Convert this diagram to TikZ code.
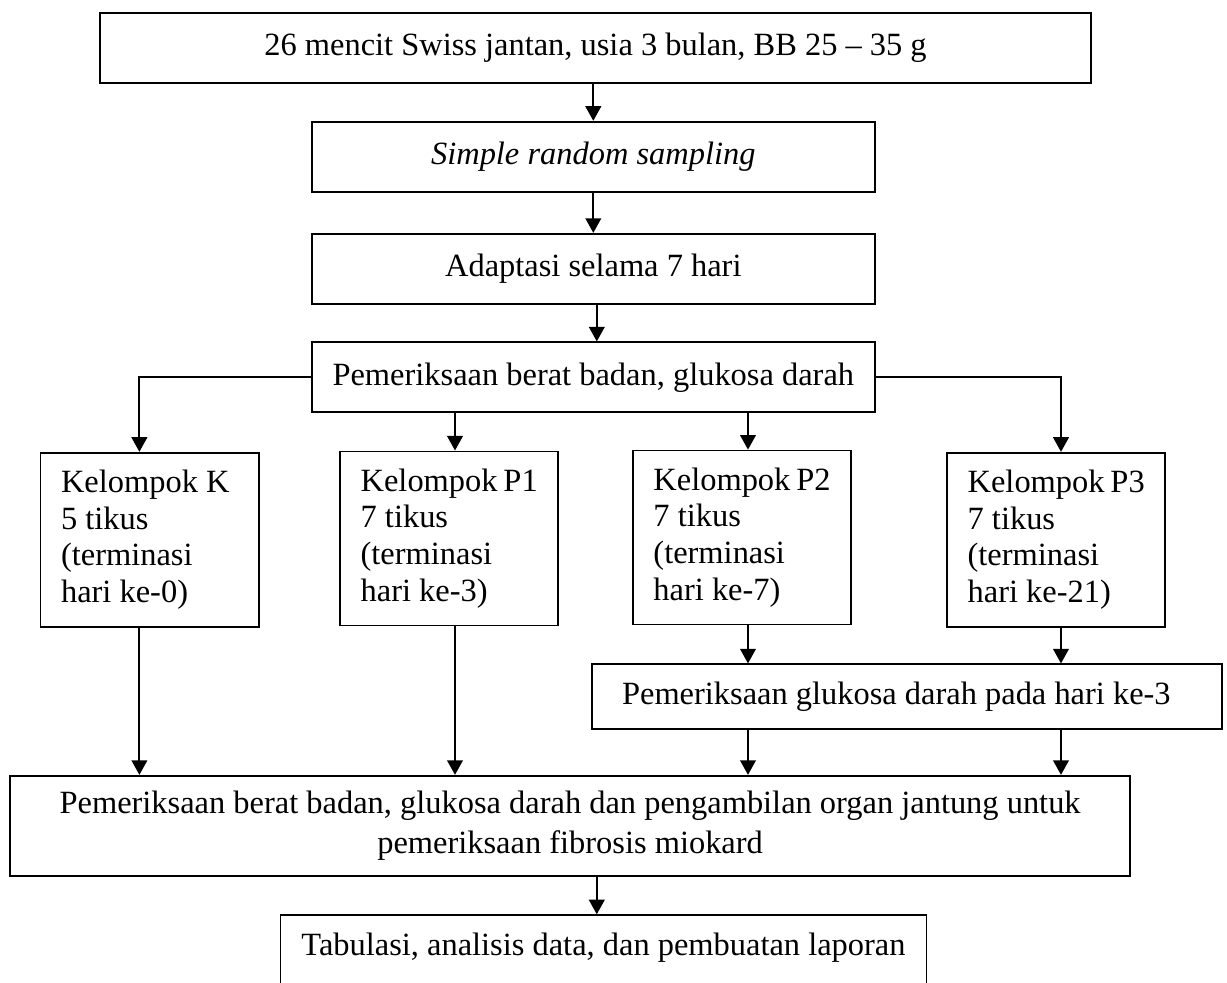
\documentclass[tikz,border=0pt]{standalone}
\usepackage{fontspec}
\setmainfont{Liberation Serif}
\usetikzlibrary{arrows.meta}

\begin{document}
\begin{tikzpicture}[x=0.013cm,y=-0.013cm,
		kotak/.style={draw,line width=0.65pt,align=center,font=\fontsize{12}{13.6}\selectfont},
		kiri/.style={kotak,align=left,execute at begin node={\spaceskip=0pt\xspaceskip=0pt}},
		kelompok/.style={kiri,text width=65.5pt,inner xsep=7.6pt,minimum height=2.262cm},
		panah/.style={line width=0.7pt,-{Triangle[length=5.4pt,width=5.8pt]}}]
			\useasboundingbox (0,0) rectangle (1227,983);
			\clip (0,0) rectangle (1227,983);
			% Kotak
			\node[kotak,minimum width=12.883cm,minimum height=0.902cm] (mencit) at (595.5,48) {26 mencit Swiss jantan, usia 3 bulan, BB 25 – 35 g};
			\node[kotak,minimum width=7.319cm,minimum height=0.918cm] (srs) at (593.3,157) {\textit{Simple random sampling}};
			\node[kotak,minimum width=7.319cm,minimum height=0.914cm] (adapt) at (593.3,268.9) {Adaptasi selama 7 hari};
			\node[kotak,minimum width=7.319cm,minimum height=0.91cm] (periksa) at (593.3,377.3) {Pemeriksaan berat badan, glukosa darah};
	
			\node[kelompok] (k) at (149.6,539.7) {Kelompok~K\\5~tikus\\(terminasi\\hari~ke-0)};
			\node[kelompok] (p1) at (449.2,538.4) {Kelompok~P1\\7~tikus\\(terminasi\\hari~ke-3)};
			\node[kelompok] (p2) at (742,537.5) {Kelompok~P2\\7~tikus\\(terminasi\\hari~ke-7)};
			\node[kelompok] (p3) at (1056.2,539.7) {Kelompok~P3\\7~tikus\\(terminasi\\hari~ke-21)};
			
			\node[kiri,text width=7.406cm,inner xsep=0.39cm,minimum height=0.845cm] (gluk) at (906.9,696.8) {Pemeriksaan glukosa darah pada hari ke-3};
			
			\node[kotak,minimum width=14.56cm,minimum height=1.304cm,font=\fontsize{12}{14.8}\selectfont] (akhir) at (570.1,825.9) {Pemeriksaan berat badan, glukosa darah dan pengambilan organ jantung untuk\\pemeriksaan fibrosis miokard};
			\node[kotak,anchor=north,minimum width=8.398cm,text height=13pt,text depth=40pt,inner ysep=2pt] (lapor) at (603.5,914.3) {Tabulasi, analisis data, dan pembuatan laporan};
			
			% Kolom panah
			\coordinate (ck) at (139.4,0);
			\coordinate (cp1) at (455,0);
			\coordinate (cp2) at (748,0);
			\coordinate (cp3) at (1061,0);
			\coordinate (cm) at (596.8,0);
			
			% Panah
			\draw[panah] (srs.north |- mencit.south) -- (srs.north);
			\draw[panah] (srs) -- (adapt);
			\draw[panah] (cm |- adapt.south) -- (cm |- periksa.north);
			
			\draw[panah] (periksa.west) -| (ck |- k.north);
			\draw[panah] (cp1 |- periksa.south) -- (cp1 |- p1.north);
			\draw[panah] (cp2 |- periksa.south) -- (cp2 |- p2.north);
			\draw[panah] (periksa.east) -| (cp3 |- p3.north);
			
			\draw[panah] (cp2 |- p2.south) -- (cp2 |- gluk.north);
			\draw[panah] (cp3 |- p3.south) -- (cp3 |- gluk.north);
			
			\draw[panah] (ck |- k.south) -- (ck |- akhir.north);
			\draw[panah] (cp1 |- p1.south) -- (cp1 |- akhir.north);
			\draw[panah] (cp2 |- gluk.south) -- (cp2 |- akhir.north);
			\draw[panah] (cp3 |- gluk.south) -- (cp3 |- akhir.north);
			
			\draw[panah] (cm |- akhir.south) -- (cm |- lapor.north);

		\end{tikzpicture}
\end{document}
